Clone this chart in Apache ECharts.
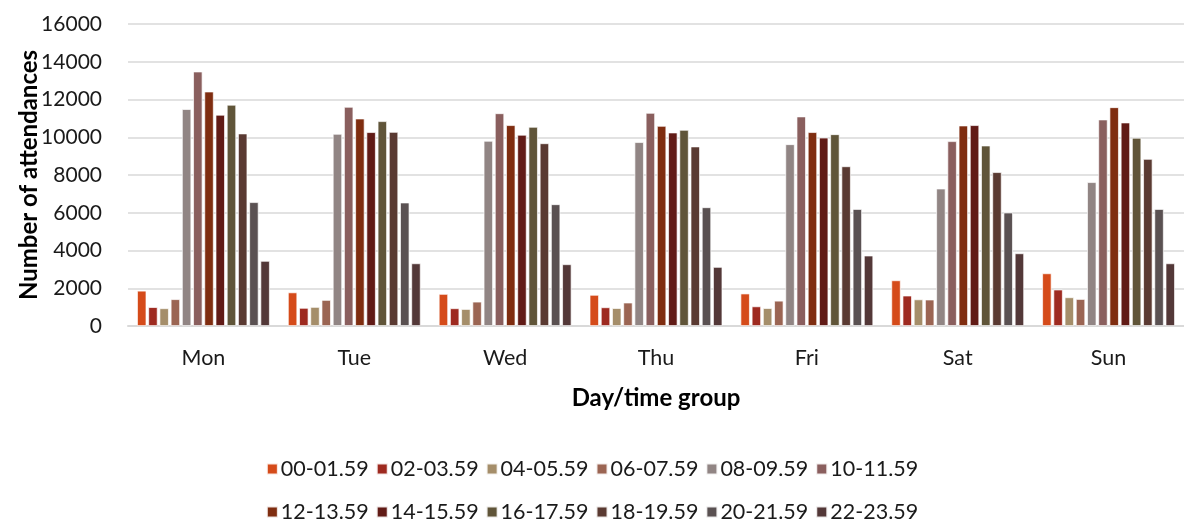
<!DOCTYPE html>
<html>
<head>
<meta charset="utf-8">
<script src="https://cdn.jsdelivr.net/npm/echarts@6/dist/echarts.min.js"></script>
<style>
  html, body { margin: 0; padding: 0; background: #fff; }
  #chart { width: 1184px; height: 521px; }
</style>
</head>
<body>
<div id="chart"></div>
<script>
// Days on the category axis
const days = ['Mon', 'Tue', 'Wed', 'Thu', 'Fri', 'Sat', 'Sun'];

// Two-hour time groups (one series each)
const timeGroups = [
  '00-01.59', '02-03.59', '04-05.59', '06-07.59', '08-09.59', '10-11.59',
  '12-13.59', '14-15.59', '16-17.59', '18-19.59', '20-21.59', '22-23.59'
];

// Attendances per time group, Mon..Sun
const g0001 = [1870, 1780, 1700, 1650, 1720, 2420, 2790];
const g0203 = [1000, 960, 940, 990, 1040, 1610, 1930];
const g0405 = [940, 1010, 900, 950, 950, 1410, 1520];
const g0607 = [1420, 1380, 1290, 1240, 1340, 1400, 1430];
const g0809 = [11490, 10180, 9810, 9740, 9630, 7280, 7620];
const g1011 = [13480, 11610, 11270, 11290, 11100, 9790, 10940];
const g1213 = [12420, 10990, 10640, 10600, 10270, 10620, 11590];
const g1415 = [11190, 10270, 10130, 10250, 9980, 10640, 10780];
const g1617 = [11720, 10850, 10550, 10390, 10160, 9560, 9970];
const g1819 = [10200, 10280, 9680, 9510, 8460, 8150, 8850];
const g2021 = [6560, 6540, 6450, 6290, 6200, 6010, 6200];
const g2223 = [3450, 3320, 3270, 3130, 3730, 3850, 3320];

const seriesValues = [g0001, g0203, g0405, g0607, g0809, g1011,
                      g1213, g1415, g1617, g1819, g2021, g2223];

// Y axis ticks
const yMin = 0, yMax = 16000, yStep = 2000;

const palette = [
  '#D54B1A', '#9E2A20', '#A58E6A', '#9B6553', '#918584', '#8A5F5E',
  '#7F2D10', '#611B16', '#605539', '#5A3A32', '#5A5152', '#533838'
];

const fontFamily = 'Lato, "Open Sans", sans-serif';

const chart = echarts.init(document.getElementById('chart'), null, { renderer: 'canvas' });

const series = timeGroups.map((name, i) => ({
  name: name,
  type: 'bar',
  data: seriesValues[i],
  barGap: '20%',
  barCategoryGap: '12%',
  itemStyle: { color: palette[i], borderColor: 'rgba(255,255,255,0.85)', borderWidth: 0.8 },
  emphasis: { disabled: true }
}));

const legendCommon = {
  left: 'center',
  orient: 'horizontal',
  icon: 'rect',
  itemWidth: 11,
  itemHeight: 11,
  itemGap: 7,
  padding: 0,
  selectedMode: false,
  textStyle: { fontFamily: fontFamily, fontSize: 21.5, lineHeight: 22, color: '#1a1a1a', padding: [0, 0, 0, -2] }
};

chart.setOption({
  animation: false,
  color: palette,
  grid: { left: 128, top: 24, width: 1067, height: 302, containLabel: false },
  legend: [
    Object.assign({}, legendCommon, { top: 458, data: timeGroups.slice(0, 6) }),
    Object.assign({}, legendCommon, { top: 501, data: timeGroups.slice(6) })
  ],
  xAxis: {
    type: 'category',
    data: days,
    name: 'Day/time group',
    nameLocation: 'middle',
    nameGap: 60,
    nameMoveOverlap: false,
    nameTextStyle: { fontFamily: fontFamily, fontSize: 24, fontWeight: 'bold', color: '#000' },
    axisLine: { lineStyle: { color: '#d9d9d9', width: 2 } },
    axisTick: { show: false },
    axisLabel: { fontFamily: fontFamily, fontSize: 21.5, color: '#1a1a1a', margin: 21 }
  },
  yAxis: {
    type: 'value',
    min: yMin,
    max: yMax,
    interval: yStep,
    name: 'Number of attendances',
    nameLocation: 'middle',
    nameGap: 87,
    nameMoveOverlap: false,
    nameTextStyle: { fontFamily: fontFamily, fontSize: 24, fontWeight: 'bold', color: '#000' },
    axisLine: { show: false },
    axisTick: { show: false },
    splitLine: { lineStyle: { color: '#d9d9d9', width: 1.5 } },
    axisLabel: {
      fontFamily: fontFamily, fontSize: 21, color: '#1a1a1a', margin: 26,
      formatter: (v) => String(v)
    }
  },
  series: series
});
</script>
</body>
</html>
